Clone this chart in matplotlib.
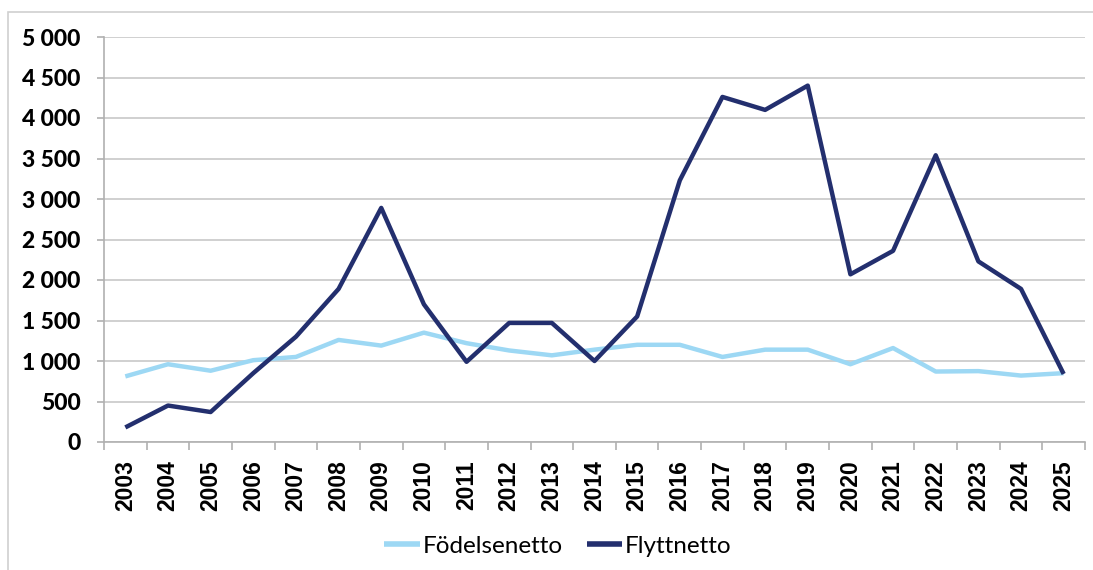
import numpy as np
import matplotlib.pyplot as plt
from matplotlib.patches import Rectangle
from matplotlib.ticker import FuncFormatter

years = list(range(2003, 2026))
fodelsenetto = [810, 960, 880, 1010, 1050, 1260, 1190, 1350, 1220, 1130, 1070, 1140,
                1200, 1200, 1050, 1140, 1140, 960, 1160, 870, 875, 820, 850]
flyttnetto = [180, 450, 370, 850, 1300, 1890, 2890, 1700, 990, 1470, 1470, 1000,
              1550, 3230, 4260, 4100, 4400, 2070, 2360, 3540, 2230, 1890, 840]

light = '#9dd8f4'
dark = '#232f6e'
grid_col = '#c8c8c8'

W, H = 1093, 570
fig = plt.figure(figsize=(W / 100, H / 100), dpi=100)
fig.patches.append(Rectangle((8 / W, -0.1), 1.2, 1 - 12 / H + 0.1, transform=fig.transFigure,
                             fill=False, edgecolor='#d0d0d0', linewidth=1.2))

ax = fig.add_axes([104 / W, 1 - 442 / H, (1085 - 104) / W, (442 - 37) / H])
x = np.arange(len(years))
ax.plot(x, fodelsenetto, color=light, lw=3.2, label='Födelsenetto', solid_capstyle='butt')
ax.plot(x, flyttnetto, color=dark, lw=3.2, label='Flyttnetto', solid_capstyle='butt')

ax.set_xlim(-0.5, len(years) - 0.5)
ax.set_ylim(0, 5000)
ax.set_yticks(np.arange(0, 5001, 500))
ax.yaxis.set_major_formatter(FuncFormatter(lambda v, p: f'{int(v):,}'.replace(',', ' ')))
ax.grid(axis='y', color=grid_col, lw=1.2)
ax.set_axisbelow(True)

ax.set_xticks(x)
ax.set_xticklabels([str(y) for y in years], rotation=90, fontsize=16.5,
                   fontweight='bold', family='Liberation Sans')
ax.set_xticks(np.arange(-0.5, len(years)), minor=True)
ax.tick_params(axis='x', which='major', length=0, pad=13)
ax.tick_params(axis='x', which='minor', length=6, color='#b0b0b0', width=1.2)
ax.tick_params(axis='y', length=5, color='#b0b0b0', width=1.2, pad=12)
for lab in ax.get_yticklabels():
    lab.set_fontsize(16.5)
    lab.set_fontweight('black')
    lab.set_family('Lato')

for s in ['top', 'right']:
    ax.spines[s].set_visible(False)
ax.spines['left'].set_color('#b0b0b0')
ax.spines['bottom'].set_color('#b0b0b0')
ax.spines['left'].set_linewidth(1.2)
ax.spines['bottom'].set_linewidth(1.2)

leg = fig.legend(loc='center', bbox_to_anchor=(558 / W, 1 - 546 / H), ncol=2, frameon=False,
                 prop={'family': 'Lato', 'size': 17.5}, handlelength=1.45, handletextpad=0.12,
                 columnspacing=1.0)
for line in leg.get_lines():
    line.set_linewidth(4)

fig.savefig('out.png', dpi=100)
